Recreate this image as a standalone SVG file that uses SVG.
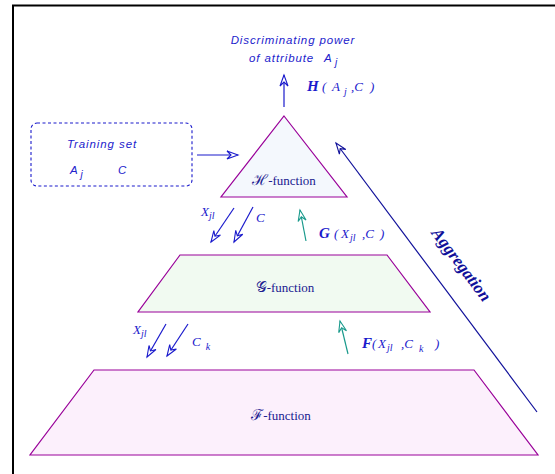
<svg xmlns="http://www.w3.org/2000/svg" width="555" height="474" viewBox="0 0 555 474">
<style>
.shape{stroke:#990099;stroke-width:1.2}
.lbl{font-family:"Liberation Sans",sans-serif;font-style:italic;font-size:11.5px;fill:#2222cc;letter-spacing:0.9px}
.fn{font-family:"Liberation Serif","DejaVu Serif",serif;font-size:13px;fill:#202090}
.scr{font-family:"DejaVu Serif",serif;font-size:15px}
.math{font-family:"Liberation Serif",serif;font-style:italic;font-size:13px;fill:#1a1acc}
.bm{font-weight:bold;font-size:15px}
.sub{font-size:10px}
.blue{stroke:#1a1acc;stroke-width:1.2;fill:none}
.teal{stroke:#1a9a8c;stroke-width:1.2;fill:none}
.navy{stroke:#10109a;stroke-width:1.2;fill:none}
</style>
<defs>
<marker id="ab" viewBox="-12 -6 14 12" refX="0" refY="0" markerWidth="14" markerHeight="12" orient="auto" markerUnits="userSpaceOnUse">
<path d="M0,0 L-11,-4 L-7,0 L-11,4 Z" fill="#fff" stroke="#1a1acc" stroke-width="1.1"/>
</marker>
<marker id="at" viewBox="-12 -6 14 12" refX="0" refY="0" markerWidth="14" markerHeight="12" orient="auto" markerUnits="userSpaceOnUse">
<path d="M0,0 L-11,-4 L-7,0 L-11,4 Z" fill="#fff" stroke="#1a9a8c" stroke-width="1.1"/>
</marker>
<marker id="an" viewBox="-12 -6 14 12" refX="0" refY="0" markerWidth="14" markerHeight="12" orient="auto" markerUnits="userSpaceOnUse">
<path d="M0,0 L-11,-4 L-7,0 L-11,4 Z" fill="#fff" stroke="#10109a" stroke-width="1.1"/>
</marker>
</defs>
<rect width="555" height="474" fill="#fff"/>
<path d="M13,474 V5.5 H555" fill="none" stroke="#000" stroke-width="2"/>

<g id="h-function">
<polygon class="shape" points="284,116 347,197 221,197" fill="#f4f8fd"/>
<text class="fn" x="284" y="185" text-anchor="middle"><tspan class="scr">ℋ</tspan>-function</text>
</g>
<g id="g-function">
<polygon class="shape" points="180,255 387,255 430,312 138,312" fill="#f1faf1"/>
<text class="fn" x="285" y="292" text-anchor="middle"><tspan class="scr">𝒢</tspan>-function</text>
</g>
<g id="f-function">
<polygon class="shape" points="94,370 474,370 538,455 30,455" fill="#fcf0fc"/>
<text class="fn" x="281" y="420" text-anchor="middle"><tspan class="scr">ℱ</tspan>-function</text>
</g>
<g id="training-set">
<rect x="31" y="123" width="161" height="63" rx="6" fill="none" stroke="#1a1acc" stroke-width="1.1" stroke-dasharray="3,2.5"/>
<text class="lbl" x="67" y="148">Training set</text>
<text class="lbl" x="70" y="174">A<tspan class="sub" dx="2" dy="4">j</tspan></text>
<text class="lbl" x="118" y="174">C</text>
</g>
<g id="output">
<text class="lbl" x="293" y="44" text-anchor="middle">Discriminating power</text>
<text class="lbl" x="249" y="62">of attribute<tspan x="324">A</tspan><tspan class="sub" x="335" dy="4">j</tspan></text>
</g>

<g id="connectors">
<line class="blue" x1="284" y1="107" x2="284" y2="75" marker-end="url(#ab)"/>
<line class="blue" x1="197" y1="155" x2="238" y2="155" marker-end="url(#ab)"/>
<line class="navy" x1="537" y1="412" x2="336" y2="143" marker-end="url(#an)"/>
<line class="blue" x1="234" y1="208" x2="211" y2="242" marker-end="url(#ab)"/>
<line class="blue" x1="253" y1="207" x2="234" y2="242" marker-end="url(#ab)"/>
<line class="teal" x1="306" y1="241" x2="300" y2="210" marker-end="url(#at)"/>
<line class="blue" x1="166" y1="324" x2="147" y2="357" marker-end="url(#ab)"/>
<line class="blue" x1="188" y1="324" x2="167" y2="356" marker-end="url(#ab)"/>
<line class="teal" x1="348" y1="354" x2="340" y2="321" marker-end="url(#at)"/>
</g>

<g id="labels">
<text class="math" x="307" y="91"><tspan class="bm">H</tspan><tspan x="322">(</tspan><tspan x="332">A</tspan><tspan class="sub" x="344" dy="4">j</tspan><tspan x="351" dy="-4">,C</tspan><tspan x="370">)</tspan></text>
<text class="math" x="201" y="216">X<tspan class="sub" dy="3">jl</tspan></text>
<text class="math" x="256" y="222">C</text>
<text class="math" x="319" y="238"><tspan class="bm">G</tspan><tspan x="334">(</tspan><tspan x="341">X</tspan><tspan class="sub" x="350" dy="3">jl</tspan><tspan x="362" dy="-3">,C</tspan><tspan x="380">)</tspan></text>
<text class="math" x="133" y="334">X<tspan class="sub" dy="3">jl</tspan></text>
<text class="math" x="192" y="346">C<tspan class="sub" dx="5" dy="4">k</tspan></text>
<text class="math" x="362" y="348"><tspan class="bm">F</tspan><tspan x="372">(</tspan><tspan x="378">X</tspan><tspan class="sub" x="387" dy="3">jl</tspan><tspan x="401" dy="-3">,C</tspan><tspan class="sub" x="419" dy="4">k</tspan><tspan x="435" dy="-4">)</tspan></text>
<text x="461" y="270" text-anchor="middle" transform="rotate(53 461 265)" font-family="Liberation Serif,serif" font-style="italic" font-weight="bold" font-size="17" fill="#10109a">Aggregation</text>
</g>
</svg>
